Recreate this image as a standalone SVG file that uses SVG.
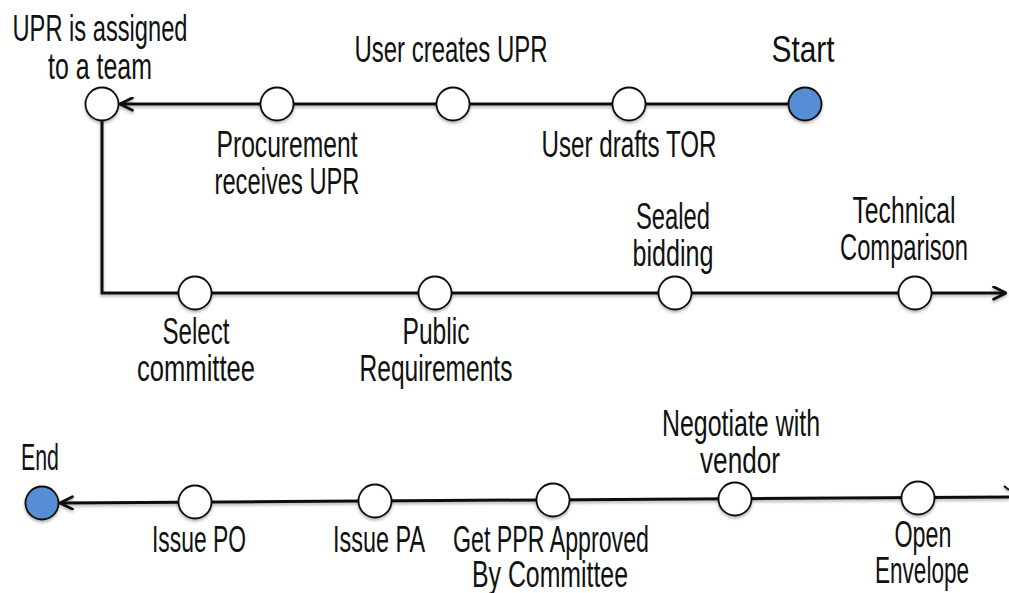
<svg xmlns="http://www.w3.org/2000/svg" width="1009" height="593" viewBox="0 0 1009 593">
  <style>
    .lbl { font-family: "Liberation Sans Narrow", "Liberation Sans", "DejaVu Sans Condensed", sans-serif; font-size: 37px; fill: #111; text-anchor: middle; }
    .step { fill: #ffffff; stroke: #111; stroke-width: 1.8; }
    .term { fill: #558ED5; stroke: #111; stroke-width: 1.8; }
    .flow { fill: none; stroke: #111; stroke-width: 3; stroke-linejoin: miter; }
  </style>
  <defs>
    <marker id="arrow" viewBox="0 0 12 12" refX="11" refY="6" markerWidth="5" markerHeight="5" markerUnits="strokeWidth" orient="auto">
      <path d="M1,1 L11,6 L1,11" fill="none" stroke="#111" stroke-width="2.2" stroke-linecap="round" stroke-linejoin="round"/>
    </marker>
    <filter id="shadow" x="-30%" y="-30%" width="160%" height="170%">
      <feDropShadow dx="0" dy="2" stdDeviation="1.6" flood-color="#000" flood-opacity="0.3"/>
    </filter>
  </defs>

  <!-- connectors -->
  <g id="connectors" filter="url(#shadow)">
    <path class="flow" d="M788,104 L120,104" marker-end="url(#arrow)"/>
    <path class="flow" d="M102,121 L102,293 L1006,293" marker-end="url(#arrow)"/>
    <path class="flow" d="M1009,497 L60,503" marker-end="url(#arrow)"/>
    <path d="M1004,486 L1009,490" fill="none" stroke="#111" stroke-width="2.2"/>
  </g>

  <!-- top row -->
  <g id="n-start" filter="url(#shadow)">
    <circle class="term" cx="805" cy="104" r="16.5"/>
  </g>
  <text class="lbl" x="803" y="62" textLength="63" lengthAdjust="spacingAndGlyphs">Start</text>

  <g id="n-drafts-tor" filter="url(#shadow)">
    <circle class="step" cx="629" cy="104" r="16.5"/>
  </g>
  <text class="lbl" x="629" y="157" textLength="175" lengthAdjust="spacingAndGlyphs">User drafts TOR</text>

  <g id="n-creates-upr" filter="url(#shadow)">
    <circle class="step" cx="453" cy="104" r="16.5"/>
  </g>
  <text class="lbl" x="451" y="62" textLength="193" lengthAdjust="spacingAndGlyphs">User creates UPR</text>

  <g id="n-receives-upr" filter="url(#shadow)">
    <circle class="step" cx="277" cy="104" r="16.5"/>
  </g>
  <text class="lbl" x="287" y="157" textLength="141" lengthAdjust="spacingAndGlyphs">Procurement</text>
  <text class="lbl" x="287" y="194" textLength="145" lengthAdjust="spacingAndGlyphs">receives UPR</text>

  <g id="n-assigned" filter="url(#shadow)">
    <circle class="step" cx="102" cy="104" r="16.5"/>
  </g>
  <text class="lbl" x="100" y="41" textLength="175" lengthAdjust="spacingAndGlyphs">UPR is assigned</text>
  <text class="lbl" x="100" y="79" textLength="104" lengthAdjust="spacingAndGlyphs">to a team</text>

  <!-- middle row -->
  <g id="n-select-committee" filter="url(#shadow)">
    <circle class="step" cx="195" cy="293" r="16.5"/>
  </g>
  <text class="lbl" x="196" y="344" textLength="67" lengthAdjust="spacingAndGlyphs">Select</text>
  <text class="lbl" x="196" y="381" textLength="118" lengthAdjust="spacingAndGlyphs">committee</text>

  <g id="n-public-req" filter="url(#shadow)">
    <circle class="step" cx="435" cy="293" r="16.5"/>
  </g>
  <text class="lbl" x="436" y="344" textLength="67" lengthAdjust="spacingAndGlyphs">Public</text>
  <text class="lbl" x="436" y="381" textLength="153" lengthAdjust="spacingAndGlyphs">Requirements</text>

  <g id="n-sealed-bidding" filter="url(#shadow)">
    <circle class="step" cx="675" cy="293" r="16.5"/>
  </g>
  <text class="lbl" x="673" y="229" textLength="74" lengthAdjust="spacingAndGlyphs">Sealed</text>
  <text class="lbl" x="673" y="266" textLength="81" lengthAdjust="spacingAndGlyphs">bidding</text>

  <g id="n-tech-comparison" filter="url(#shadow)">
    <circle class="step" cx="915" cy="293" r="16.5"/>
  </g>
  <text class="lbl" x="904" y="223" textLength="103" lengthAdjust="spacingAndGlyphs">Technical</text>
  <text class="lbl" x="904" y="260" textLength="128" lengthAdjust="spacingAndGlyphs">Comparison</text>

  <!-- bottom row -->
  <g id="n-open-envelope" filter="url(#shadow)">
    <circle class="step" cx="918" cy="498" r="16.5"/>
  </g>
  <text class="lbl" x="923" y="547" textLength="57" lengthAdjust="spacingAndGlyphs">Open</text>
  <text class="lbl" x="922" y="583" textLength="94" lengthAdjust="spacingAndGlyphs">Envelope</text>

  <g id="n-negotiate" filter="url(#shadow)">
    <circle class="step" cx="735" cy="499" r="16.5"/>
  </g>
  <text class="lbl" x="741" y="436" textLength="158" lengthAdjust="spacingAndGlyphs">Negotiate with</text>
  <text class="lbl" x="740" y="473" textLength="80" lengthAdjust="spacingAndGlyphs">vendor</text>

  <g id="n-ppr-approved" filter="url(#shadow)">
    <circle class="step" cx="553" cy="500" r="16.5"/>
  </g>
  <text class="lbl" x="551" y="552" textLength="196" lengthAdjust="spacingAndGlyphs">Get PPR Approved</text>
  <text class="lbl" x="550" y="587" textLength="156" lengthAdjust="spacingAndGlyphs">By Committee</text>

  <g id="n-issue-pa" filter="url(#shadow)">
    <circle class="step" cx="375" cy="501" r="16.5"/>
  </g>
  <text class="lbl" x="379" y="552" textLength="92" lengthAdjust="spacingAndGlyphs">Issue PA</text>

  <g id="n-issue-po" filter="url(#shadow)">
    <circle class="step" cx="195" cy="502" r="16.5"/>
  </g>
  <text class="lbl" x="199" y="552" textLength="94" lengthAdjust="spacingAndGlyphs">Issue PO</text>

  <g id="n-end" filter="url(#shadow)">
    <circle class="term" cx="42" cy="503" r="16.5"/>
  </g>
  <text class="lbl" x="40" y="470" textLength="38" lengthAdjust="spacingAndGlyphs">End</text>
</svg>
